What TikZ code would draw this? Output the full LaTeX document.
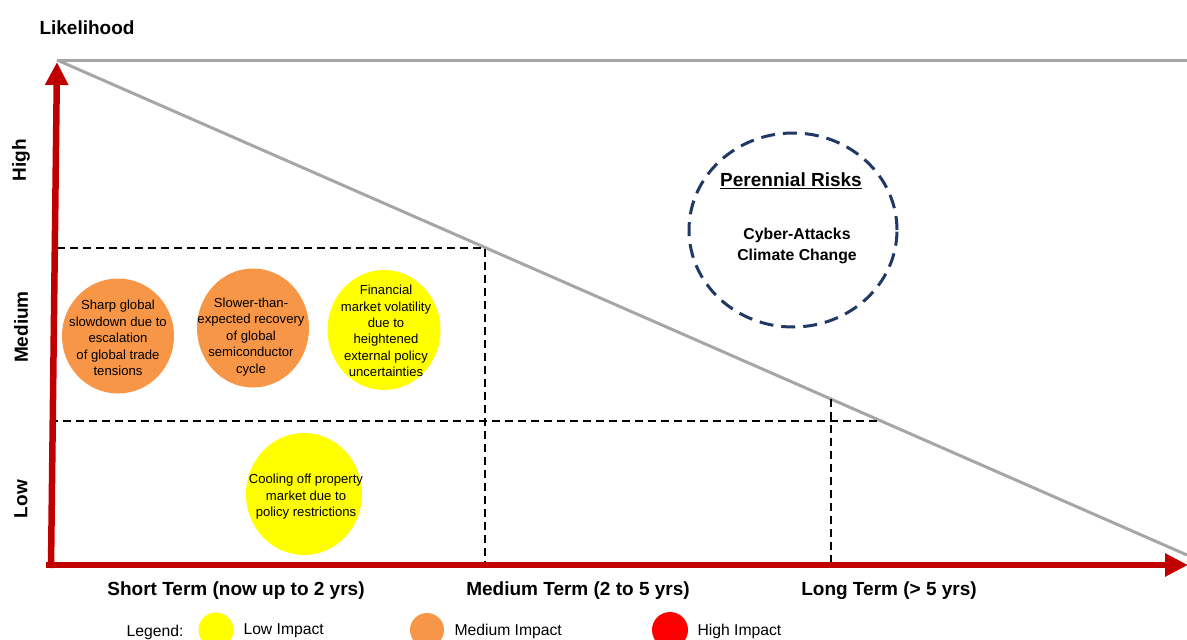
\documentclass[tikz,border=0pt]{standalone}
\usepackage{fontspec}
\setmainfont{Liberation Sans}
\usetikzlibrary{arrows.meta,shapes.geometric}
\definecolor{axred}{RGB}{192,0,0}
\definecolor{gridgray}{RGB}{166,166,166}
\definecolor{riskorange}{RGB}{247,150,70}
\definecolor{riskyellow}{RGB}{255,255,0}
\definecolor{riskred}{RGB}{255,0,0}
\definecolor{navy}{RGB}{31,56,100}
\tikzset{
  axis/.style={draw=axred,line width=6.5pt,-{Triangle[length=23pt,width=22pt]}},
  grayline/.style={draw=gridgray,line width=3pt},
  gridline/.style={draw=black,line width=2pt,dash pattern=on 8pt off 5pt},
  riskshape/.style={ellipse,inner sep=0pt,outer sep=0pt},
  risktext/.style={align=center,inner sep=0pt,font=\fontsize{13.1}{16.4}\selectfont,text=black},
  lbl/.style={font=\fontsize{19}{22}\selectfont\bfseries},
  legtext/.style={font=\fontsize{15.7}{18}\selectfont,anchor=west},
  legdot/.style={circle,inner sep=0pt,minimum size=35pt}
}
\begin{document}
\begin{tikzpicture}[x=1pt,y=-1pt]
\useasboundingbox (0,0) rectangle (1187,640);
% grid coordinates
\coordinate (top) at (57,60);
\coordinate (topR) at (1187,60);
\coordinate (diagEnd) at (1187,555);
\coordinate (h1L) at (57,248);
\coordinate (h1R) at (485,248);
\coordinate (v1B) at (485,565);
\coordinate (h2L) at (50,421);
\coordinate (h2R) at (880,421);
\coordinate (v2T) at (831,399);
\coordinate (v2B) at (831,565);
% gray lines
\draw[grayline] (top) -- (topR);
\draw[grayline] (top) -- (diagEnd);
% dashed grid
\draw[gridline] (h1L) -- (h1R) -- (v1B);
\draw[gridline] (h2L) -- (h2R);
\draw[gridline] (v2T) -- (v2B);
% axes
\coordinate (xStart) at (46,565);
\coordinate (xEnd) at (1188,565);
\coordinate (yStart) at (51,568);
\coordinate (yEnd) at (57,62);
\draw[axis] (xStart) -- (xEnd);
\draw[axis] (yStart) -- (yEnd);
% axis labels
\node[lbl] (likelihood) at (87,28) {Likelihood};
\node[lbl,rotate=90] (high) at (21,160) {High};
\node[lbl,rotate=90] (medium) at (21,327) {Medium};
\node[lbl,rotate=90] (low) at (21,499) {Low};
\node[lbl] (short) at (236,591) {Short Term (now up to 2 yrs)};
\node[lbl] (mid) at (578,591) {Medium Term (2 to 5 yrs)};
\node[lbl] (long) at (889,591) {Long Term (> 5 yrs)};
% risks
\node[riskshape,fill=riskorange,minimum width=112pt,minimum height=115pt] (r1) at (118,336) {};
\node[risktext] (r1t) at (118,338)
  {Sharp global\\slowdown due to\\escalation\\of global trade\\tensions};
\node[riskshape,fill=riskorange,minimum width=112pt,minimum height=119pt] (r2) at (253,328) {};
\node[risktext] (r2t) at (251,337)
  {Slower-than-\\expected recovery\\of global\\semiconductor\\cycle};
\node[riskshape,fill=riskyellow,minimum width=113pt,minimum height=120pt] (r3) at (384,330) {};
\node[risktext] (r3t) at (386,331)
  {Financial\\market volatility\\due to\\heightened\\external policy\\uncertainties};
\node[riskshape,fill=riskyellow,minimum width=116pt,minimum height=122pt] (r4) at (304,494) {};
\node[risktext] (r4t) at (306,497)
  {Cooling off property\\market due to\\policy restrictions};
% perennial
\node[ellipse,draw=navy,line width=3pt,dash pattern=on 14pt off 8pt,minimum width=208pt,minimum height=194pt] (per) at (793,230) {};
\node[font=\fontsize{19}{22}\selectfont\bfseries] (perT) at (791,181) {\underline{Perennial Risks}};
\node[font=\fontsize{15.8}{20.5}\selectfont\bfseries,align=center] (perL) at (797,246) {Cyber-Attacks\\Climate Change};
% legend
\node[legtext,anchor=center] (leg) at (155,632) {Legend:};
\node[legdot,fill=riskyellow] (d1) at (216,630) {};
\node[legtext] (t1) at (240,631) {Low Impact};
\node[legdot,fill=riskorange,minimum size=34pt] (d2) at (427,630) {};
\node[legtext] (t2) at (451,631) {Medium Impact};
\node[legdot,fill=riskred,minimum size=36pt] (d3) at (670,630) {};
\node[legtext] (t3) at (694,631) {High Impact};
\end{tikzpicture}
\end{document}
